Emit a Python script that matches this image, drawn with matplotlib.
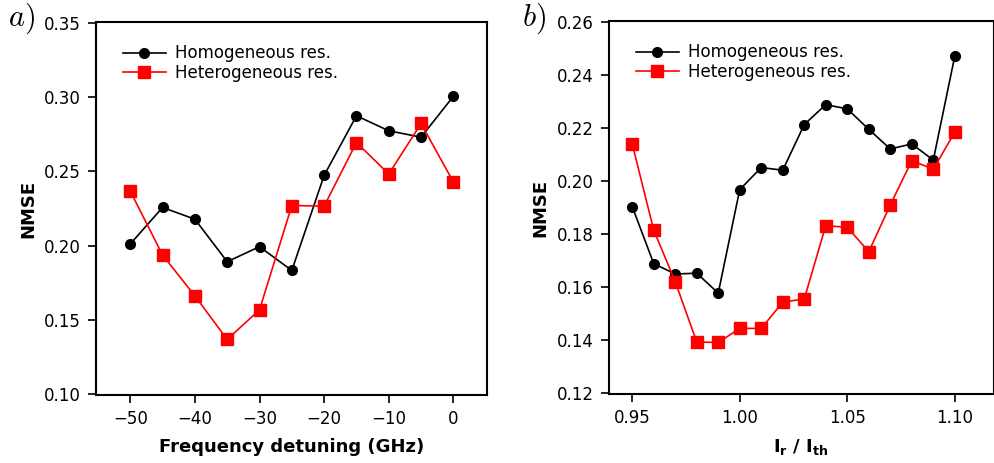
import matplotlib
matplotlib.use("Agg")
import matplotlib.pyplot as plt
from matplotlib.font_manager import FontProperties

# Panel a: NMSE vs frequency detuning
detuning = [-50, -45, -40, -35, -30, -25, -20, -15, -10, -5, 0]
nmse_hom_a = [0.2011, 0.2257, 0.2178, 0.1892, 0.1993, 0.1833, 0.2473, 0.2874, 0.2773, 0.2730, 0.3005]
nmse_het_a = [0.2367, 0.1937, 0.1662, 0.1369, 0.1568, 0.2270, 0.2266, 0.2694, 0.2482, 0.2822, 0.2428]

# Panel b: NMSE vs injection current ratio
current = [0.95, 0.96, 0.97, 0.98, 0.99, 1.00, 1.01, 1.02, 1.03, 1.04, 1.05, 1.06, 1.07, 1.08, 1.09, 1.10]
nmse_hom_b = [0.1904, 0.1689, 0.1650, 0.1653, 0.1578, 0.1968, 0.2051, 0.2041, 0.2213,
              0.2288, 0.2272, 0.2195, 0.2121, 0.2140, 0.2079, 0.2471]
nmse_het_b = [0.2140, 0.1815, 0.1621, 0.1394, 0.1392, 0.1445, 0.1445, 0.1544, 0.1556,
              0.1832, 0.1826, 0.1734, 0.1910, 0.2077, 0.2045, 0.2184]

ticks_a_x = [-50, -40, -30, -20, -10, 0]
ticks_a_y = [0.10, 0.15, 0.20, 0.25, 0.30, 0.35]
ticks_b_x = [0.95, 1.00, 1.05, 1.10]
ticks_b_y = [0.12, 0.14, 0.16, 0.18, 0.20, 0.22, 0.24, 0.26]

plt.rcParams["font.family"] = ["DejaVu Sans"]
plt.rcParams["mathtext.fontset"] = "dejavusans"

W, H = 994, 463
fig = plt.figure(figsize=(W / 100, H / 100), dpi=100)

ax_a = fig.add_axes([96 / W, (H - 395) / H, (487 - 96) / W, (395 - 22) / H])
ax_b = fig.add_axes([609 / W, (H - 394) / H, (993.5 - 609) / W, (394 - 21) / H])


def style(ax):
    for side in ("top", "right", "bottom", "left"):
        ax.spines[side].set_linewidth(1.5)
    ax.tick_params(axis="both", direction="out", length=6, width=1.2,
                   labelsize=12, top=False, right=False, pad=5)


def draw(ax, x, hom, het):
    ax.plot(x, hom, color="black", marker="o", markersize=7, linewidth=1.2,
            label="Homogeneous res.")
    ax.plot(x, het, color="red", marker="s", markersize=8, linewidth=1.2,
            label="Heterogeneous res.")
    ax.legend(loc="upper left", frameon=False, fontsize=12, handlelength=2.6,
              handletextpad=0.55, labelspacing=0.1,
              bbox_to_anchor=(0.03, 0.98))
    ax.set_ylabel("NMSE", fontsize=13, fontweight="bold", labelpad=5)


draw(ax_a, detuning, nmse_hom_a, nmse_het_a)
ax_a.set_xlim(-55.3, 5.2)
ax_a.set_ylim(0.0995, 0.3505)
ax_a.set_xticks(ticks_a_x)
ax_a.set_yticks(ticks_a_y)
ax_a.set_yticklabels([f"{v:.2f}" for v in ticks_a_y])
ax_a.set_xlabel("Frequency detuning (GHz)", fontsize=13, fontweight="bold", labelpad=7)
style(ax_a)

draw(ax_b, current, nmse_hom_b, nmse_het_b)
ax_b.set_xlim(0.9392, 1.118)
ax_b.set_ylim(0.1198, 0.2603)
ax_b.set_xticks(ticks_b_x)
ax_b.set_xticklabels([f"{v:.2f}" for v in ticks_b_x])
ax_b.set_yticks(ticks_b_y)
ax_b.set_yticklabels([f"{v:.2f}" for v in ticks_b_y])
ax_b.set_xlabel(r"$\mathbf{I_r}$ / $\mathbf{I_{th}}$", fontsize=13, fontweight="bold", labelpad=7)
style(ax_b)

panel_font = FontProperties(size=22)
panel_font.set_math_fontfamily("cm")
fig.text(8 / W, 1 - 26 / H, r"$a)$", fontproperties=panel_font, va="baseline")
fig.text(522 / W, 1 - 26 / H, r"$b)$", fontproperties=panel_font, va="baseline")

fig.savefig("out.png", dpi=100)
